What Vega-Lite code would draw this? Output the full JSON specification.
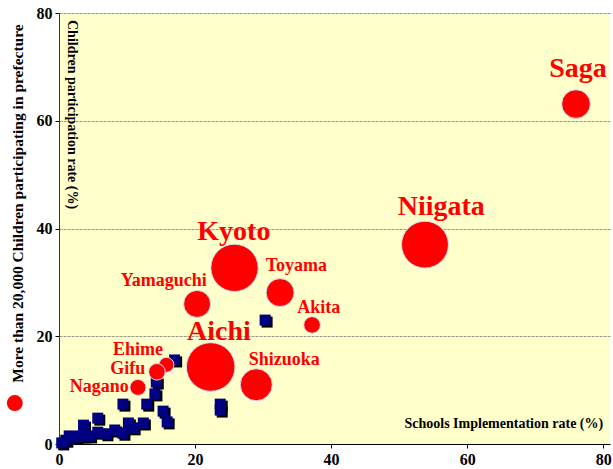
{
  "$schema": "https://vega.github.io/schema/vega-lite/v6.json",
  "width": 551,
  "height": 431,
  "autosize": {"type": "none"},
  "padding": {"left": 59, "top": 13, "right": 3, "bottom": 25},
  "background": "white",
  "config": {
    "view": {"fill": "#FFFFCC", "stroke": null},
    "font": "Liberation Serif"
  },
  "datasets": {
    "schools": [
      {"rate": 0.4, "part": 0.2}, {"rate": 1.0, "part": 0.7}, {"rate": 1.5, "part": 1.5},
      {"rate": 2.5, "part": 1.3}, {"rate": 3.1, "part": 1.5}, {"rate": 3.6, "part": 3.5},
      {"rate": 3.6, "part": 1.5}, {"rate": 4.5, "part": 1.5}, {"rate": 5.7, "part": 4.8},
      {"rate": 5.7, "part": 2.2}, {"rate": 6.9, "part": 1.9}, {"rate": 8.2, "part": 2.6},
      {"rate": 9.4, "part": 2.0}, {"rate": 9.4, "part": 7.4}, {"rate": 10.2, "part": 3.9},
      {"rate": 10.9, "part": 3.0}, {"rate": 12.4, "part": 3.9}, {"rate": 12.9, "part": 7.4},
      {"rate": 14.1, "part": 9.3}, {"rate": 14.3, "part": 11.5}, {"rate": 15.3, "part": 6.1},
      {"rate": 15.9, "part": 4.1}, {"rate": 17.0, "part": 15.6}, {"rate": 23.7, "part": 7.4},
      {"rate": 23.7, "part": 6.3}, {"rate": 30.3, "part": 23.0}
    ],
    "prefs": [
      {"name": "Saga", "rate": 76.0, "part": 63.1, "children": 20.5, "tier": "major", "lx": 76.3, "ly": 68.1},
      {"name": "Niigata", "rate": 53.8, "part": 37.0, "children": 55, "tier": "major", "lx": 56.2, "ly": 42.5},
      {"name": "Kyoto", "rate": 25.8, "part": 32.7, "children": 56, "tier": "major", "lx": 25.7, "ly": 37.8},
      {"name": "Toyama", "rate": 32.5, "part": 28.1, "children": 19.6, "tier": "minor", "lx": 34.9, "ly": 32.1},
      {"name": "Akita", "rate": 37.2, "part": 22.1, "children": 6.9, "tier": "minor", "lx": 38.2, "ly": 24.3},
      {"name": "Yamaguchi", "rate": 20.3, "part": 26.0, "children": 18.2, "tier": "minor", "lx": 15.4, "ly": 29.3},
      {"name": "Aichi", "rate": 22.3, "part": 14.3, "children": 59, "tier": "major", "lx": 23.5, "ly": 19.3},
      {"name": "Shizuoka", "rate": 29.0, "part": 11.0, "children": 25.6, "tier": "minor", "lx": 33.1, "ly": 14.7},
      {"name": "Ehime", "rate": 15.8, "part": 14.7, "children": 5.6, "tier": "minor", "lx": 11.6, "ly": 16.5},
      {"name": "Gifu", "rate": 14.4, "part": 13.4, "children": 6.9, "tier": "minor", "lx": 10.1, "ly": 13.0},
      {"name": "Nagano", "rate": 11.6, "part": 10.5, "children": 6.4, "tier": "minor", "lx": 5.9, "ly": 9.6}
    ]
  },
  "layer": [
    {
      "data": {"name": "schools"},
      "mark": {"type": "point", "shape": "square", "filled": true, "color": "black", "opacity": 1, "size": 121, "xOffset": 2, "yOffset": 2},
      "encoding": {
        "x": {
          "field": "rate", "type": "quantitative",
          "scale": {"domain": [0, 81], "nice": false, "zero": true},
          "axis": {
            "values": [0, 20, 40, 60, 80], "grid": false, "title": null, "labelFlush": false,
            "labelFont": "Liberation Serif", "labelFontWeight": "bold", "labelFontSize": 16, "labelColor": "black",
            "domainColor": "black", "domainWidth": 1, "tickColor": "black", "tickSize": 4, "labelPadding": 3
          }
        },
        "y": {
          "field": "part", "type": "quantitative",
          "scale": {"domain": [0, 80], "nice": false, "zero": true},
          "axis": {
            "values": [0, 20, 40, 60, 80], "grid": true, "gridColor": "#9a9a8a", "gridDash": [3, 1], "gridWidth": 1, "labelFlush": false,
            "labelFont": "Liberation Serif", "labelFontWeight": "bold", "labelFontSize": 16, "labelColor": "black",
            "domainColor": "#333333", "domainWidth": 1, "tickColor": "black", "tickSize": 4, "labelPadding": 3,
            "title": "More than 20,000 Children participating in prefecture",
            "titleFont": "Liberation Serif", "titleFontWeight": "bold", "titleFontSize": 15.5, "titleColor": "black",
            "titleAngle": -90, "titleAlign": "center", "titleBaseline": "middle", "titleX": -42, "titleY": 190
          }
        }
      }
    },
    {
      "data": {"name": "schools"},
      "mark": {"type": "point", "shape": "square", "filled": true, "color": "#000080", "opacity": 1, "size": 121},
      "encoding": {
        "x": {"field": "rate", "type": "quantitative"},
        "y": {"field": "part", "type": "quantitative"}
      }
    },
    {
      "data": {"name": "prefs"},
      "mark": {"type": "point", "shape": "circle", "filled": true, "color": "#FF0000", "opacity": 1, "stroke": "#DADAF2", "strokeWidth": 1},
      "encoding": {
        "x": {"field": "rate", "type": "quantitative"},
        "y": {"field": "part", "type": "quantitative"},
        "size": {"field": "children", "type": "quantitative", "scale": {"domain": [0, 60], "range": [0, 2400]}, "legend": null}
      }
    },
    {
      "data": {"name": "prefs"},
      "mark": {"type": "text", "font": "Liberation Serif", "fontWeight": "bold", "color": "#FF0000", "align": "center", "baseline": "alphabetic"},
      "encoding": {
        "x": {"field": "lx", "type": "quantitative"},
        "y": {"field": "ly", "type": "quantitative"},
        "text": {"field": "name"},
        "size": {"field": "tier", "type": "nominal", "scale": {"domain": ["major", "minor"], "range": [28, 18]}, "legend": null}
      }
    },
    {
      "data": {"values": [{"rate": -6.5, "part": 7.6}]},
      "mark": {"type": "point", "shape": "circle", "filled": true, "color": "#FF0000", "opacity": 1, "size": 256},
      "encoding": {
        "x": {"field": "rate", "type": "quantitative"},
        "y": {"field": "part", "type": "quantitative"}
      }
    },
    {
      "data": {"values": [{"rate": 1.9, "part": 78.7, "t": "Children participation rate (%)"}]},
      "mark": {"type": "text", "font": "Liberation Serif", "fontWeight": "bold", "fontSize": 14, "color": "black", "angle": 90, "align": "left", "baseline": "middle"},
      "encoding": {
        "x": {"field": "rate", "type": "quantitative"},
        "y": {"field": "part", "type": "quantitative"},
        "text": {"field": "t"}
      }
    },
    {
      "data": {"values": [{"rate": 80.0, "part": 3.0, "t": "Schools Implementation rate (%)"}]},
      "mark": {"type": "text", "font": "Liberation Serif", "fontWeight": "bold", "fontSize": 14, "color": "black", "align": "right", "baseline": "alphabetic"},
      "encoding": {
        "x": {"field": "rate", "type": "quantitative"},
        "y": {"field": "part", "type": "quantitative"},
        "text": {"field": "t"}
      }
    }
  ],
  "resolve": {"scale": {"size": "independent"}}
}
